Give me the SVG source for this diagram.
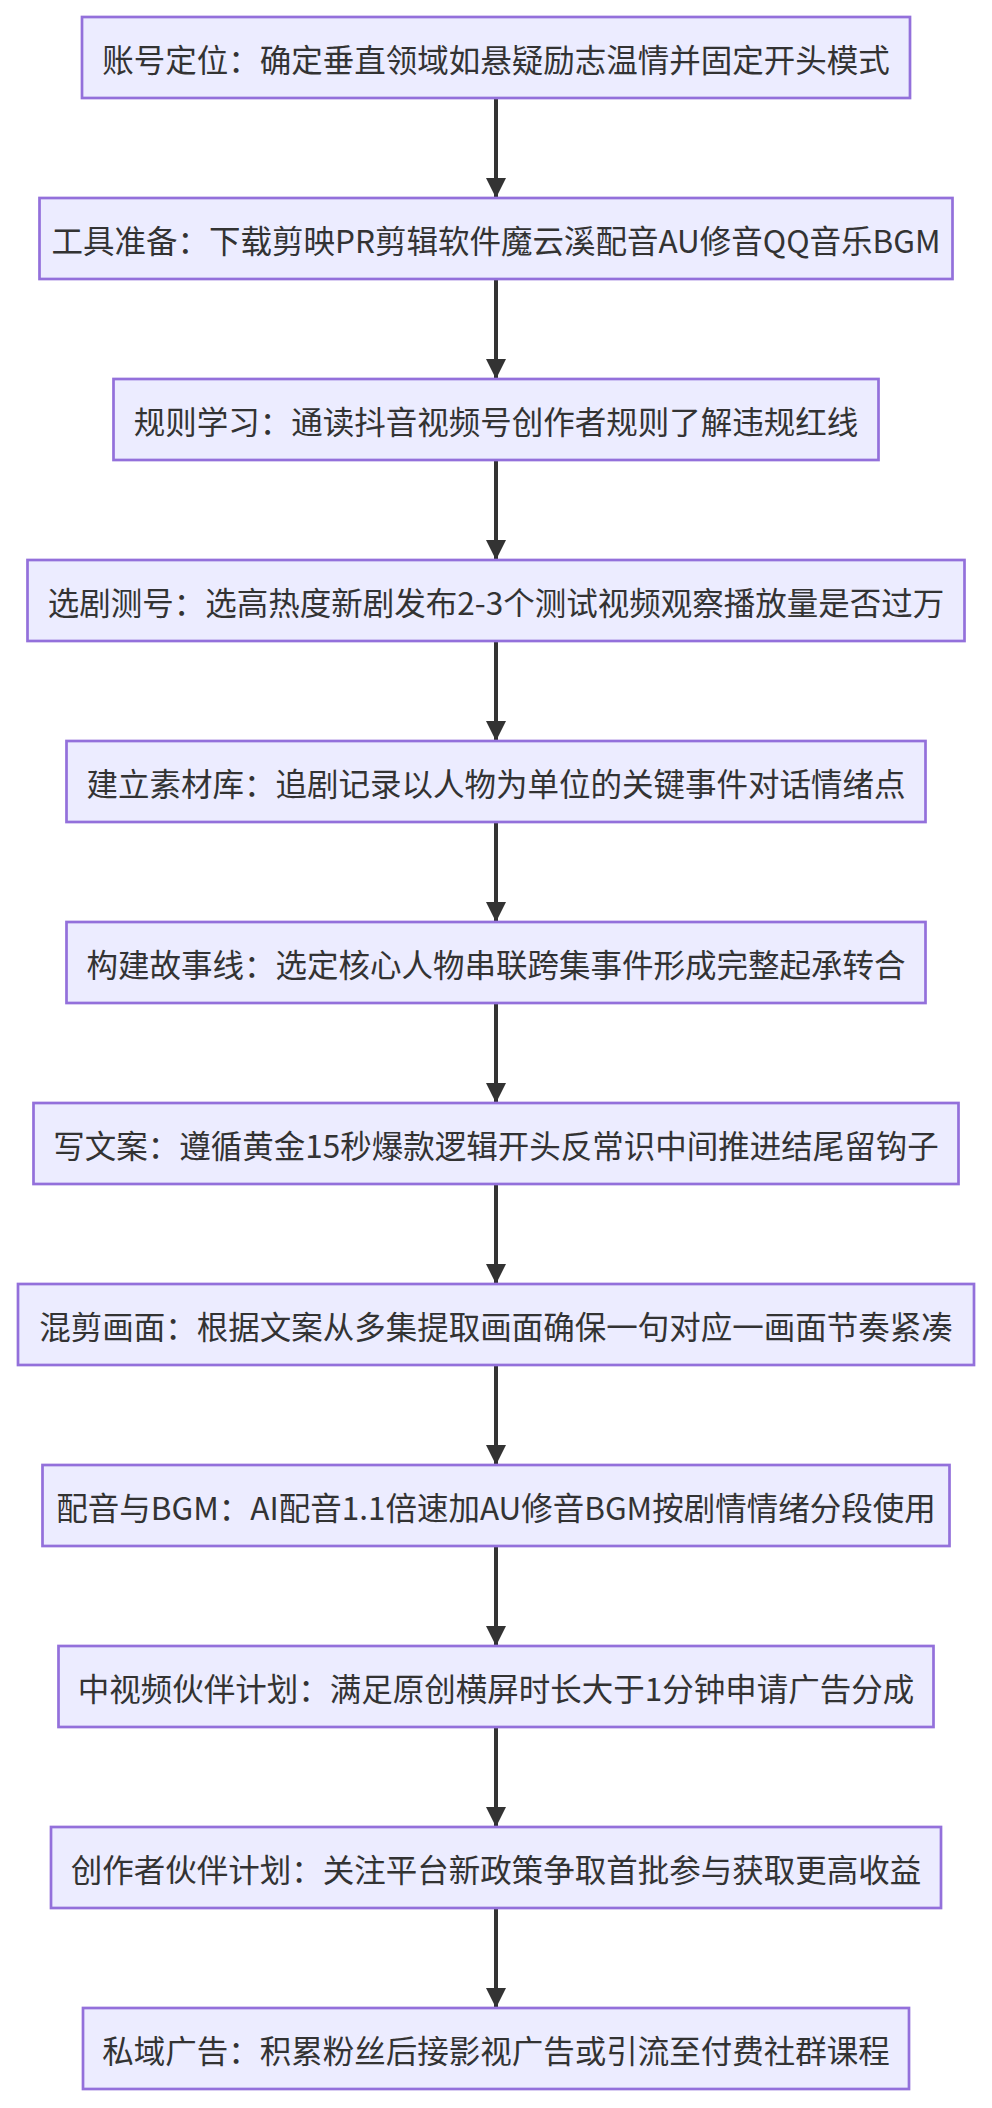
<svg xmlns="http://www.w3.org/2000/svg" width="992" height="2108" viewBox="0 0 992 2108">
<style>
.n rect{fill:#ECECFF;stroke:#9370DB;stroke-width:2.7}
.n text{font-family:"Noto Sans CJK SC","Noto Sans",sans-serif;font-size:31.5px;fill:#333;text-anchor:middle;dominant-baseline:central}
.e line{stroke:#333;stroke-width:4;marker-end:url(#ah)}
</style>
<defs><marker id="ah" viewBox="0 0 10 10" refX="10" refY="5" markerWidth="5" markerHeight="5" orient="auto" markerUnits="strokeWidth"><path d="M0,0L10,5L0,10z" fill="#333"/></marker></defs>
<rect width="992" height="2108" fill="#fff"/>
<g class="e">
<line x1="496" y1="98" x2="496" y2="198"/>
<line x1="496" y1="279" x2="496" y2="379"/>
<line x1="496" y1="460" x2="496" y2="560"/>
<line x1="496" y1="641" x2="496" y2="741"/>
<line x1="496" y1="822" x2="496" y2="922"/>
<line x1="496" y1="1003" x2="496" y2="1103"/>
<line x1="496" y1="1184" x2="496" y2="1284"/>
<line x1="496" y1="1365" x2="496" y2="1465"/>
<line x1="496" y1="1546" x2="496" y2="1646"/>
<line x1="496" y1="1727" x2="496" y2="1827"/>
<line x1="496" y1="1908" x2="496" y2="2008"/>
</g>
<g id="n1" class="n"><rect x="82" y="17" width="828" height="81"/><text x="496" y="57.5">账号定位：确定垂直领域如悬疑励志温情并固定开头模式</text></g>
<g id="n2" class="n"><rect x="39.5" y="198" width="913" height="81"/><text x="496" y="238.5">工具准备：下载剪映PR剪辑软件魔云溪配音AU修音QQ音乐BGM</text></g>
<g id="n3" class="n"><rect x="113.5" y="379" width="765" height="81"/><text x="496" y="419.5">规则学习：通读抖音视频号创作者规则了解违规红线</text></g>
<g id="n4" class="n"><rect x="27.5" y="560" width="937" height="81"/><text x="496" y="600.5">选剧测号：选高热度新剧发布2-3个测试视频观察播放量是否过万</text></g>
<g id="n5" class="n"><rect x="66.5" y="741" width="859" height="81"/><text x="496" y="781.5">建立素材库：追剧记录以人物为单位的关键事件对话情绪点</text></g>
<g id="n6" class="n"><rect x="66.5" y="922" width="859" height="81"/><text x="496" y="962.5">构建故事线：选定核心人物串联跨集事件形成完整起承转合</text></g>
<g id="n7" class="n"><rect x="33.5" y="1103" width="925" height="81"/><text x="496" y="1143.5">写文案：遵循黄金15秒爆款逻辑开头反常识中间推进结尾留钩子</text></g>
<g id="n8" class="n"><rect x="18" y="1284" width="956" height="81"/><text x="496" y="1324.5">混剪画面：根据文案从多集提取画面确保一句对应一画面节奏紧凑</text></g>
<g id="n9" class="n"><rect x="42.5" y="1465" width="907" height="81"/><text x="496" y="1505.5">配音与BGM：AI配音1.1倍速加AU修音BGM按剧情情绪分段使用</text></g>
<g id="n10" class="n"><rect x="58.5" y="1646" width="875" height="81"/><text x="496" y="1686.5">中视频伙伴计划：满足原创横屏时长大于1分钟申请广告分成</text></g>
<g id="n11" class="n"><rect x="51" y="1827" width="890" height="81"/><text x="496" y="1867.5">创作者伙伴计划：关注平台新政策争取首批参与获取更高收益</text></g>
<g id="n12" class="n"><rect x="83" y="2008" width="826" height="81"/><text x="496" y="2048.5">私域广告：积累粉丝后接影视广告或引流至付费社群课程</text></g>
</svg>
